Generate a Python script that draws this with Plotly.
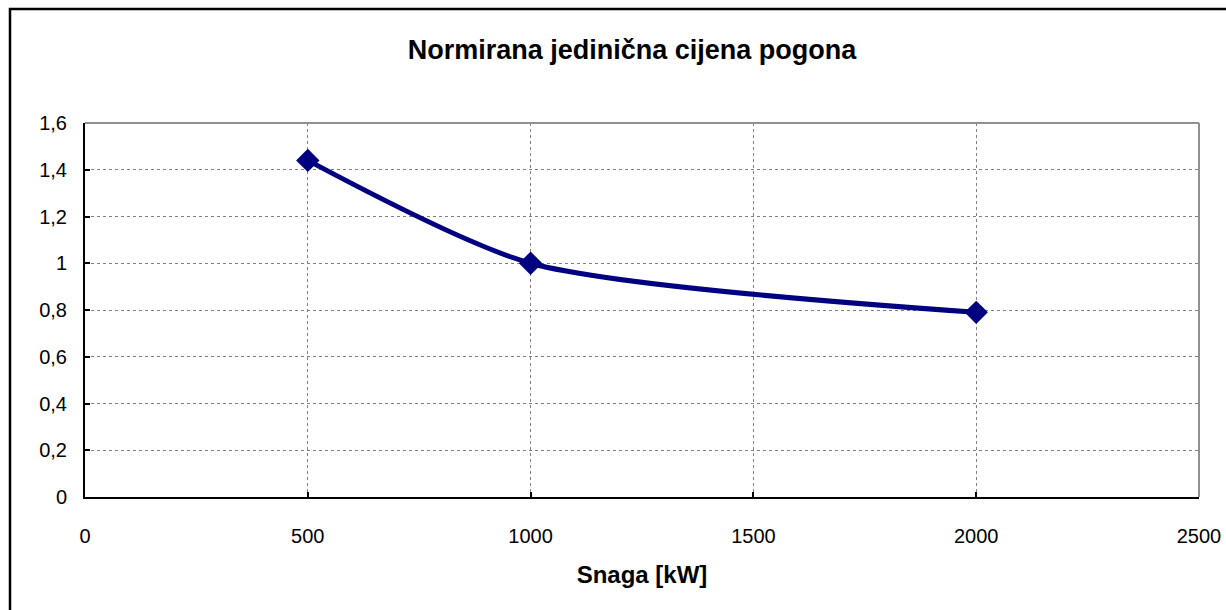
import plotly.graph_objects as go

snaga_kw = [500, 1000, 2000]
cijena = [1.44, 1.0, 0.79]
x_ticks = [0, 500, 1000, 1500, 2000, 2500]
y_ticks = [0, 0.2, 0.4, 0.6, 0.8, 1.0, 1.2, 1.4, 1.6]

FONT = "Liberation Sans, Arial, sans-serif"

fig = go.Figure()
fig.add_trace(go.Scatter(
    x=snaga_kw, y=cijena, mode="lines+markers",
    line=dict(color="#000080", width=5, shape="spline", smoothing=0.7),
    marker=dict(symbol="diamond", size=18, color="#000080"),
    showlegend=False,
))

W, H = 1226, 610
L, R, T, B = 85, 27, 123, 113
pw = W - L - R
ph = H - T - B

fig.update_layout(
    width=W, height=H,
    margin=dict(l=L, r=R, t=T, b=B, autoexpand=False),
    paper_bgcolor="white", plot_bgcolor="white",
    separators=",.",
    font=dict(family=FONT, size=20, color="black"),
    title=dict(text="<b>Normirana jedinična cijena pogona</b>",
               font=dict(family=FONT, size=27, color="black"),
               x=(632 - L) / pw, xref="paper", xanchor="center",
               y=1 - 50 / H, yanchor="middle"),
    xaxis=dict(range=[0, 2500], tickvals=x_ticks, automargin=False,
               showgrid=True, gridcolor="#808080", griddash="dot", gridwidth=1,
               showline=True, linecolor="black", linewidth=2,
               ticks="inside", ticklen=5, tickcolor="black", tickwidth=2,
               tickfont=dict(size=20), zeroline=False, ticklabelstandoff=20,
               ticklabeloverflow="allow",
               title=dict(text="<b>Snaga [kW]</b>", font=dict(size=24), standoff=20)),
    yaxis=dict(range=[0, 1.6], tickvals=y_ticks, automargin=False,
               showgrid=True, gridcolor="#808080", griddash="dot", gridwidth=1,
               showline=True, linecolor="black", linewidth=2,
               ticks="inside", ticklen=5, tickcolor="black", tickwidth=2,
               tickfont=dict(size=20), zeroline=False, ticklabelstandoff=12),
)

# right and top edges of plot area (gray)
fig.add_shape(type="line", xref="paper", yref="paper", x0=1, x1=1, y0=0, y1=1,
              line=dict(color="#909090", width=2))
fig.add_shape(type="line", xref="paper", yref="paper", x0=0, x1=1, y0=1, y1=1,
              line=dict(color="#909090", width=2))

# outer chart border
fig.add_shape(type="rect", xref="paper", yref="paper",
              x0=(10 - L) / pw, x1=1.2, y0=-0.5, y1=(H - B - 9) / ph,
              line=dict(color="black", width=2.5), fillcolor="rgba(0,0,0,0)", layer="below")

fig.write_html("out.html", config={"displayModeBar": False},
               post_script="document.body.style.margin='0';document.body.style.overflow='hidden';")
